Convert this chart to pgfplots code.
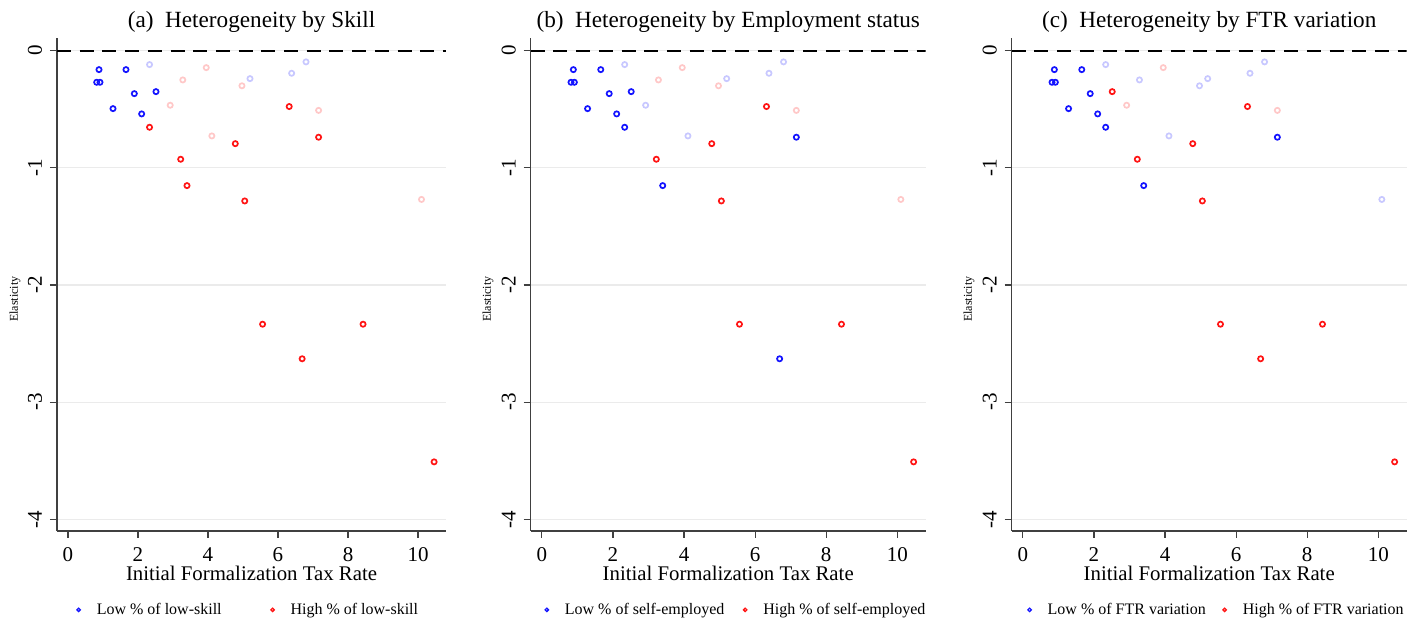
\documentclass[border=0pt]{standalone}
\usepackage{fontspec}
\setmainfont{Liberation Serif}
\usepackage{pgfplots}
\pgfplotsset{compat=1.18}
\definecolor{dblue}{RGB}{20,20,255}
\definecolor{dred}{RGB}{255,20,20}
\definecolor{lblue}{RGB}{200,200,255}
\definecolor{lred}{RGB}{255,200,200}
\pgfplotsset{
  stata/.style={
    scale only axis, height=246.5pt,
    xmin=-0.314, xmax=10.8, ymin=-4.10, ymax=0.108,
    axis x line*=bottom, axis y line*=left,
    axis line style={-, line width=0.55pt, black!75},
    xtick={0,2,4,6,8,10}, ytick={-4,-3,-2,-1,0},
    tick align=outside, major tick length=3.5pt,
    tick style={line width=0.55pt, black!75},
    /pgf/number format/assume math mode=true,
    ticklabel style={font=\fontsize{10.5}{12}\selectfont, inner sep=1pt},
    xticklabel style={anchor=center, yshift=-8.5pt},
    yticklabel style={xshift=-7.5pt, rotate=90, anchor=center},
    ymajorgrids, major grid style={black!8, line width=0.6pt},
    xlabel={Initial Formalization Tax Rate},
    xlabel style={at={(axis description cs:0.5,0)}, anchor=center, yshift=-21pt, inner sep=1pt, font=\fontsize{10.4}{12}\selectfont},
    ylabel={Elasticity},
    ylabel style={at={(axis description cs:-0.108,0.47)}, anchor=center, rotate=0, font=\fontsize{6}{7}\selectfont},
    title style={at={(axis description cs:0.5,1)}, anchor=center, yshift=2pt, font=\fontsize{11.6}{13}\selectfont},
    legend style={at={(axis description cs:0.5,-0.16)}, anchor=center, draw=none, fill=none,
      legend columns=2, font=\fontsize{8}{10}\selectfont},
    legend image code/.code={\path (-2pt,0pt) (6.6pt,0pt); \draw[line width=0.65pt] (0pt,0pt) circle (0.85pt);},
  },
  pt/.style={only marks, mark=o, mark size=1.3pt, line width=0.85pt, mark options={solid}},
  zeroline/.style={mark=none, sharp plot, black, line width=1pt, dash pattern=on 7pt off 4.35pt, forget plot},
}
\begin{document}
\begin{tikzpicture}
\path[use as bounding box] (0,0) rectangle (708pt,309.5pt);
% ---------- (a)
\begin{axis}[stata, width=194.5pt, at={(28.5pt,44pt)}, anchor=south west,
  title={(a)\ \ Heterogeneity by Skill},
  legend style={xshift=-1.75pt, /tikz/every even column/.append style={column sep=21pt}}]
\addplot[zeroline] coordinates {(-0.314,0) (10.8,0)};
\addplot[pt, lblue, forget plot] coordinates {(2.33,-0.119)(5.2,-0.239)(6.39,-0.193)(6.8,-0.096)};
\addplot[pt, lred, forget plot] coordinates {(3.95,-0.145)(3.28,-0.25)(4.97,-0.30)(2.92,-0.466)(4.11,-0.728)(7.16,-0.51)(10.1,-1.27)};
\addplot[pt, dblue] coordinates {(0.886,-0.162)(1.657,-0.162)(0.82,-0.27)(0.914,-0.27)(1.895,-0.367)(2.514,-0.35)(1.286,-0.495)(2.105,-0.54)};
\addplot[pt, dred] coordinates {(2.33,-0.654)(6.32,-0.477)(7.16,-0.739)(4.78,-0.794)(3.22,-0.927)(3.40,-1.152)(5.05,-1.283)(5.56,-2.335)(8.43,-2.335)(6.69,-2.63)(10.46,-3.51)};
\legend{Low \% of low-skill, High \% of low-skill}
\end{axis}
% ---------- (b)
\begin{axis}[stata, width=197.5pt, at={(265.35pt,44pt)}, anchor=south west,
  title={(b)\ \ Heterogeneity by Employment status},
  legend style={xshift=3.75pt, /tikz/every even column/.append style={column sep=6pt}}]
\addplot[zeroline] coordinates {(-0.314,0) (10.8,0)};
\addplot[pt, lblue, forget plot] coordinates {(2.33,-0.119)(5.2,-0.239)(6.39,-0.193)(6.8,-0.096)(2.92,-0.466)(4.11,-0.728)};
\addplot[pt, lred, forget plot] coordinates {(3.95,-0.145)(3.28,-0.25)(4.97,-0.30)(7.16,-0.51)(10.1,-1.27)};
\addplot[pt, dblue] coordinates {(0.886,-0.162)(1.657,-0.162)(0.82,-0.27)(0.914,-0.27)(1.895,-0.367)(2.514,-0.35)(1.286,-0.495)(2.105,-0.54)(2.33,-0.654)(7.16,-0.739)(3.40,-1.152)(6.69,-2.63)};
\addplot[pt, dred] coordinates {(6.32,-0.477)(4.78,-0.794)(3.22,-0.927)(5.05,-1.283)(5.56,-2.335)(8.43,-2.335)(10.46,-3.51)};
\legend{Low \% of self-employed, High \% of self-employed}
\end{axis}
% ---------- (c)
\begin{axis}[stata, width=197.5pt, at={(505.85pt,44pt)}, anchor=south west,
  title={(c)\ \ Heterogeneity by FTR variation},
  legend style={xshift=3.5pt, /tikz/every even column/.append style={column sep=5pt}}]
\addplot[zeroline] coordinates {(-0.314,0) (10.8,0)};
\addplot[pt, lblue, forget plot] coordinates {(2.33,-0.119)(5.2,-0.239)(6.39,-0.193)(6.8,-0.096)(3.28,-0.25)(4.97,-0.30)(4.11,-0.728)(10.1,-1.27)};
\addplot[pt, lred, forget plot] coordinates {(3.95,-0.145)(2.92,-0.466)(7.16,-0.51)};
\addplot[pt, dblue] coordinates {(0.886,-0.162)(1.657,-0.162)(0.82,-0.27)(0.914,-0.27)(1.895,-0.367)(1.286,-0.495)(2.105,-0.54)(2.33,-0.654)(7.16,-0.739)(3.40,-1.152)};
\addplot[pt, dred] coordinates {(2.514,-0.35)(6.32,-0.477)(4.78,-0.794)(3.22,-0.927)(5.05,-1.283)(5.56,-2.335)(8.43,-2.335)(6.69,-2.63)(10.46,-3.51)};
\legend{Low \% of FTR variation, High \% of FTR variation}
\end{axis}
\end{tikzpicture}
\end{document}
